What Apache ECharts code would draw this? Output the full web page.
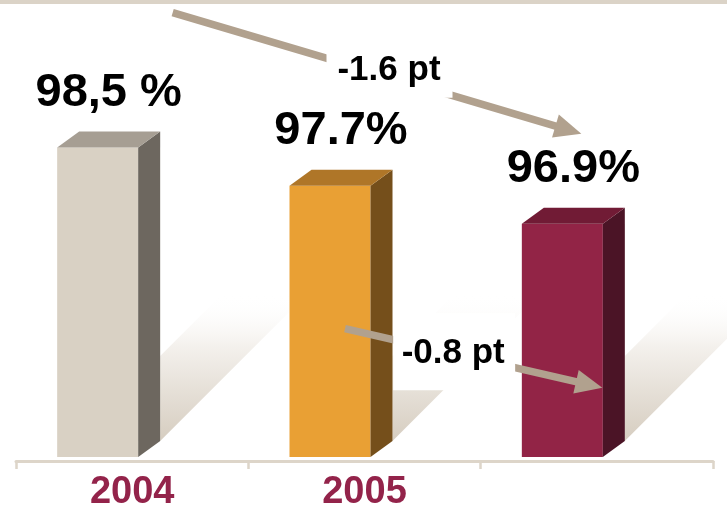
<!DOCTYPE html>
<html>
<head>
<meta charset="utf-8">
<script src="https://cdn.jsdelivr.net/npm/echarts@6/dist/echarts.min.js"></script>
<style>
  html, body { margin: 0; padding: 0; background: #fff; }
  #chart { width: 727px; height: 507px; }
</style>
</head>
<body>
<div id="chart"></div>
<script>
const categories = ['2004', '2005', ''];
const values = [98.5, 97.7, 96.9];
const valueLabels = ['98,5 %', '97.7%', '96.9%'];
// change arrows: from bar -> to bar
const changeFrom = [0, 1];
const changeTo = [2, 2];

const Y_MIN = 92;
const Y_MAX = 101.6;
const FONT = '"Liberation Sans", Arial, sans-serif';

const barColors = [
  { front: '#d9d1c4', side: '#6d675f', top: '#a69e93' },
  { front: '#e9a034', side: '#754f1b', top: '#af7628' },
  { front: '#922446', side: '#4b1426', top: '#711b35' }
];

const BAR_W = 81;
const BAR_SHIFT = -75;
const DEPTH_X = 22;
const DEPTH_Y = 16;
const ARROW_COLOR = '#b1a18e';

const chart = echarts.init(document.getElementById('chart'));

function text(x, y, str, font, color) {
  return {
    type: 'text',
    x: x,
    y: y,
    style: {
      text: str,
      font: font,
      fill: color,
      align: 'center',
      verticalAlign: 'middle',
      textAlign: 'center',
      textVerticalAlign: 'middle'
    }
  };
}

function renderBar(params, api) {
  const i = params.dataIndex;
  const top = api.coord([api.value(0), api.value(1)]);
  const base = api.coord([api.value(0), Y_MIN]);
  const x0 = top[0] + BAR_SHIFT;
  const x1 = x0 + BAR_W;
  const yt = top[1];
  const yb = base[1];
  const c = barColors[i];

  // floor shadow, slanted up-right behind the bar
  const sx = x1 + DEPTH_X;
  const sy = yb - DEPTH_Y;
  const sw = 85;
  const sl = 62;

  return {
    type: 'group',
    children: [
      {
        type: 'polygon',
        shape: { points: [[sx, sy], [sx, sy - sw], [sx + sl, sy - sw - sl], [sx + sw + sl, sy - sw - sl]] },
        style: {
          fill: new echarts.graphic.LinearGradient(0, 0, 0, 1, [
            { offset: 0, color: 'rgba(255,255,255,0)' },
            { offset: 0.35, color: '#f4f1ed' },
            { offset: 1, color: '#d6cdc0' }
          ])
        }
      },
      {
        type: 'rect',
        shape: { x: x0, y: yt, width: BAR_W, height: yb - yt },
        style: { fill: c.front }
      },
      {
        type: 'polygon',
        shape: { points: [[x1, yt], [x1 + DEPTH_X, yt - DEPTH_Y], [x1 + DEPTH_X, yb - DEPTH_Y], [x1, yb]] },
        style: { fill: c.side }
      },
      {
        type: 'polygon',
        shape: { points: [[x0, yt], [x0 + DEPTH_X, yt - DEPTH_Y], [x1 + DEPTH_X, yt - DEPTH_Y], [x1, yt]] },
        style: { fill: c.top }
      },
      text((x0 + x1 + DEPTH_X) / 2, yt - DEPTH_Y - 39, valueLabels[i], 'bold 47px ' + FONT, '#000')
    ]
  };
}

// where each change arrow sits, relative to the bars it links
const arrowLayout = [
  { start: [40.5, -135], tip: [-15.5, -90], label: [12, -2.5], box: [12.5, 1.5, 126, 46] },
  { start: [-19.5, 143], tip: [5.5, 164], label: [-20.5, -5], box: [-19.5, -6.5, 122, 77] }
];

function renderArrow(params, api) {
  const k = params.dataIndex;
  const a = api.coord([changeFrom[k], values[changeFrom[k]]]);
  const b = api.coord([changeTo[k], values[changeTo[k]]]);
  const lay = arrowLayout[k];
  const p0 = [a[0] + lay.start[0], a[1] + lay.start[1]];
  const p1 = [b[0] + lay.tip[0], b[1] + lay.tip[1]];
  const dx = p1[0] - p0[0];
  const dy = p1[1] - p0[1];
  const len = Math.sqrt(dx * dx + dy * dy);
  const ux = dx / len;
  const uy = dy / len;
  const headL = 27;
  const headW = 12;
  const hb = [p1[0] - ux * headL, p1[1] - uy * headL];
  const mid = [(p0[0] + p1[0]) / 2, (p0[1] + p1[1]) / 2];
  const diff = (values[changeTo[k]] - values[changeFrom[k]]).toFixed(1) + ' pt';
  const bx = mid[0] + lay.box[0];
  const by = mid[1] + lay.box[1];

  return {
    type: 'group',
    children: [
      {
        type: 'line',
        shape: { x1: p0[0], y1: p0[1], x2: hb[0] + ux * 2, y2: hb[1] + uy * 2 },
        style: { stroke: ARROW_COLOR, lineWidth: 7.5 }
      },
      {
        type: 'polygon',
        shape: {
          points: [
            p1,
            [hb[0] - uy * headW, hb[1] + ux * headW],
            [hb[0] + uy * headW, hb[1] - ux * headW]
          ]
        },
        style: { fill: ARROW_COLOR }
      },
      {
        type: 'rect',
        shape: { x: bx - lay.box[2] / 2, y: by - lay.box[3] / 2, width: lay.box[2], height: lay.box[3] },
        style: { fill: '#fff' }
      },
      text(mid[0] + lay.label[0], mid[1] + lay.label[1], diff, 'bold 35px ' + FONT, '#000')
    ]
  };
}

chart.setOption({
  backgroundColor: '#fff',
  animation: false,
  graphic: [
    {
      type: 'rect',
      left: 0,
      top: 0,
      shape: { width: 727, height: 4 },
      style: { fill: '#dbd3c7' }
    }
  ],
  grid: {
    left: 16,
    right: 14,
    top: 0,
    bottom: 50,
    outerBoundsMode: 'none'
  },
  xAxis: {
    type: 'category',
    data: categories,
    offset: 4,
    axisLine: {
      show: true,
      lineStyle: { color: '#ddd5c9', width: 3 }
    },
    axisTick: {
      show: true,
      interval: 0,
      length: 8,
      lineStyle: { color: '#ddd5c9', width: 2.5 }
    },
    axisLabel: {
      color: '#93234a',
      fontFamily: FONT,
      fontWeight: 'bold',
      fontSize: 38,
      margin: 13
    }
  },
  yAxis: {
    type: 'value',
    min: Y_MIN,
    max: Y_MAX,
    show: false,
    splitLine: { show: false }
  },
  series: [
    {
      type: 'custom',
      renderItem: renderBar,
      data: values.map((v, i) => [i, v]),
      z: 2
    },
    {
      type: 'custom',
      renderItem: renderArrow,
      data: changeFrom.map((f, k) => [f, changeTo[k]]),
      z: 3
    }
  ]
});
</script>
</body>
</html>
